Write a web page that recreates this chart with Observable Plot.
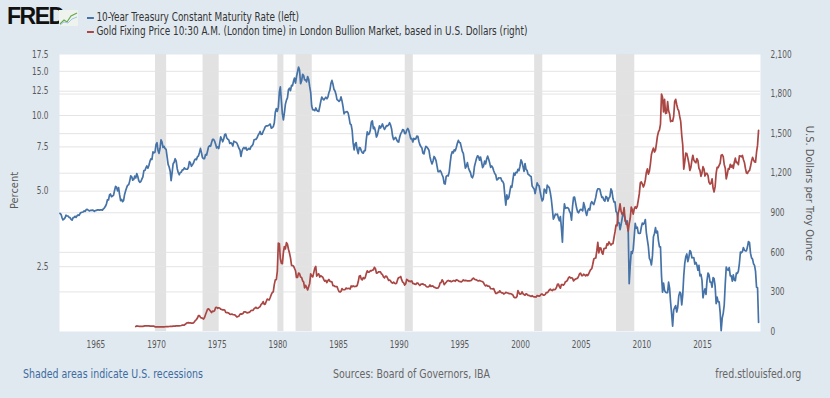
<!DOCTYPE html>
<html><head><meta charset="utf-8">
<script src="https://cdn.jsdelivr.net/npm/d3@7"></script>
<script src="https://cdn.jsdelivr.net/npm/@observablehq/plot@0.6"></script>
<style>
body{margin:0;background:#e1e9f0;width:830px;height:398px;overflow:hidden;position:relative;
 font-family:"Liberation Sans Narrow","Arial Narrow","DejaVu Sans Condensed","Roboto Condensed",sans-serif;}
#chart{position:absolute;left:0;top:46px;}
#logo{position:absolute;left:7px;top:3px;font-family:"Liberation Sans",Arial,sans-serif;font-weight:bold;font-size:23px;letter-spacing:-1.5px;color:#111;}
#icon{position:absolute;left:59px;top:10px;}
.leg{position:absolute;left:87px;font-size:11.5px;color:#333;white-space:nowrap;transform:scaleX(0.86);transform-origin:0 50%;}
.leg span{display:inline-block;width:8px;height:2px;vertical-align:middle;margin-right:3px;}
.ylab{position:absolute;font-size:11px;color:#595959;white-space:nowrap;}
.foot{position:absolute;top:366px;font-size:12.5px;color:#666;white-space:nowrap;transform:scaleX(0.84);transform-origin:0 50%;}
.foot.r{transform-origin:100% 50%;}
</style></head>
<body>
<div id="logo">FRED</div>
<svg id="icon" width="19" height="16" viewBox="0 0 19 16"><rect x="0" y="0" width="19" height="16" fill="#eef3ee"/><polyline points="1,14 5,10 8,12 12,6 18,3" fill="none" stroke="#6aa84f" stroke-width="1.2"/><polyline points="1,15 5,12 9,13 13,9 18,7" fill="none" stroke="#9fc5e8" stroke-width="1"/></svg>
<div class="leg" style="top:10px"><span style="background:#4572a7"></span>10-Year Treasury Constant Maturity Rate (left)</div>
<div class="leg" style="top:24px"><span style="background:#aa4643"></span>Gold Fixing Price 10:30 A.M. (London time) in London Bullion Market, based in U.S. Dollars (right)</div>
<div class="ylab" style="left:-4px;top:184px;transform:rotate(-90deg);">Percent</div>
<div class="ylab" style="left:742px;top:187px;transform:rotate(90deg);">U.S. Dollars per Troy Ounce</div>
<div id="chart"></div>
<div class="foot" style="left:23px;color:#3d6b9f">Shaded areas indicate U.S. recessions</div>
<div class="foot" style="left:333px;">Sources: Board of Governors, IBA</div>
<div class="foot r" style="right:29px;">fred.stlouisfed.org</div>
<script>
// 10-Year Treasury rate (percent), monthly, starting Jan 1962
const rate1960s = [
4.08,4.04,3.93,3.84,3.87,3.91,4.01,3.98,3.98,3.93,3.92,3.86,
3.83,3.92,3.93,3.97,3.93,3.99,4.02,4.00,4.08,4.11,4.12,4.13,
4.17,4.15,4.22,4.23,4.20,4.17,4.19,4.19,4.20,4.19,4.15,4.18,
4.19,4.21,4.21,4.20,4.21,4.21,4.20,4.25,4.29,4.35,4.45,4.62,
4.61,4.83,4.87,4.75,4.78,4.81,5.02,5.22,5.18,5.01,5.16,4.84,
4.58,4.63,4.54,4.59,4.85,5.02,5.16,5.28,5.30,5.48,5.75,5.70,
5.53,5.56,5.74,5.64,5.87,5.72,5.50,5.42,5.46,5.58,5.70,6.03,
6.04,6.19,6.30,6.17,6.32,6.57,6.72,6.69,7.16,7.10,7.14,7.65];
const rate1970s = [
7.79,7.24,7.07,7.39,8.00,7.84,7.46,7.53,7.39,7.33,6.84,6.39,
6.24,6.00,5.50,5.93,6.43,6.52,6.73,6.58,6.14,5.93,5.81,5.93,
5.95,6.08,6.07,6.19,6.13,6.11,6.11,6.21,6.55,6.48,6.28,6.36,
6.46,6.64,6.71,6.67,6.85,6.90,7.13,7.40,7.09,6.79,6.73,6.74,
6.99,6.96,7.21,7.51,7.58,7.54,7.81,8.04,8.04,7.90,7.68,7.43,
7.50,7.39,7.73,8.23,8.06,7.86,8.06,8.40,8.43,8.14,8.05,8.00,
7.74,7.79,7.73,7.56,7.90,7.86,7.83,7.77,7.59,7.41,7.29,6.87,
7.21,7.39,7.46,7.37,7.46,7.28,7.33,7.40,7.34,7.52,7.58,7.69,
8.01,8.03,8.04,8.15,8.35,8.46,8.64,8.41,8.42,8.64,8.81,9.01,
9.10,9.10,9.12,9.18,9.25,8.91,8.95,9.03,9.33,10.30,10.65,10.39];
const rate1980s = [
10.80,12.41,13.00,11.47,10.18,9.60,10.25,11.10,11.51,11.75,12.68,12.84,
12.57,13.19,13.12,13.68,14.10,13.47,14.28,14.94,15.60,15.15,13.39,13.72,
14.59,14.43,13.86,13.87,13.62,14.30,13.95,13.06,12.34,10.91,10.55,10.54,
10.46,10.72,10.51,10.40,10.38,10.85,11.38,11.85,11.65,11.54,11.69,11.83,
11.67,11.84,12.32,12.63,13.41,13.80,13.36,12.72,12.52,12.16,11.57,11.50,
11.38,11.51,11.86,11.43,10.85,10.16,10.31,10.33,10.37,10.24,9.78,9.26,
9.19,8.70,7.78,7.30,7.71,7.80,7.30,7.05,7.45,7.43,7.25,7.11,
7.08,7.25,7.25,8.02,8.61,8.40,8.45,8.76,9.42,9.52,8.86,8.99,
8.67,8.21,8.37,8.72,9.09,8.92,9.06,9.26,8.98,8.80,8.96,9.11,
9.09,9.17,9.36,9.18,8.86,8.28,8.02,8.11,8.19,8.01,7.87,7.84];
const rate1990s = [
8.21,8.47,8.59,8.79,8.76,8.48,8.47,8.75,8.89,8.72,8.39,8.08,
8.09,7.85,8.11,8.04,8.07,8.28,8.27,7.90,7.65,7.53,7.42,7.09,
7.03,7.34,7.54,7.48,7.39,7.26,6.84,6.59,6.42,6.59,6.87,6.77,
6.60,6.26,5.98,5.97,6.04,5.96,5.81,5.68,5.36,5.33,5.72,5.77,
5.75,5.97,6.48,6.97,7.18,7.10,7.30,7.24,7.46,7.74,7.96,7.81,
7.78,7.47,7.20,7.06,6.63,6.17,6.28,6.49,6.20,6.04,5.93,5.71,
5.65,5.81,6.27,6.51,6.74,6.91,6.87,6.64,6.83,6.53,6.20,6.30,
6.58,6.42,6.69,6.89,6.71,6.49,6.22,6.30,6.21,6.03,5.88,5.81,
5.54,5.57,5.65,5.64,5.65,5.50,5.46,5.34,4.81,4.40,4.83,4.65,
4.72,5.00,5.23,5.18,5.54,5.90,5.79,5.94,5.92,6.11,6.03,6.28];
const rate2000s = [
6.66,6.52,6.26,5.99,6.44,6.10,6.05,5.83,5.80,5.74,5.72,5.24,
5.16,5.10,4.89,5.14,5.39,5.28,5.24,4.97,4.73,4.57,4.65,5.09,
5.04,4.91,5.28,5.21,5.16,4.93,4.65,4.26,3.87,3.94,4.05,4.03,
4.05,3.90,3.81,3.96,3.57,3.13,3.98,4.45,4.27,4.29,4.30,4.27,
4.15,4.08,3.83,4.35,4.72,4.73,4.50,4.28,4.13,4.10,4.19,4.23,
4.22,4.17,4.50,4.34,4.14,4.00,4.18,4.26,4.20,4.46,4.54,4.47,
4.42,4.57,4.72,4.99,5.11,5.11,5.09,4.88,4.72,4.73,4.60,4.56,
4.76,4.72,4.56,4.69,4.75,5.10,5.00,4.67,4.52,4.53,4.15,4.10,
3.74,3.74,3.51,3.68,3.88,4.10,4.01,3.89,3.69,3.81,3.53,2.14,
2.52,2.87,2.82,2.93,3.29,3.72,3.56,3.59,3.40,3.39,3.40,3.59];
const rate2010s = [
3.73,3.69,3.73,3.85,3.42,3.20,3.01,2.70,2.65,2.54,2.76,3.29,
3.39,3.58,3.41,3.46,3.17,3.00,3.00,2.30,1.98,2.15,2.01,1.98,
1.97,1.97,2.17,2.05,1.80,1.62,1.45,1.68,1.72,1.75,1.65,1.72,
1.91,1.98,1.96,1.76,1.93,2.30,2.58,2.74,2.81,2.62,2.72,2.90,
2.86,2.71,2.72,2.71,2.56,2.60,2.54,2.42,2.53,2.30,2.33,2.21,
1.88,1.98,2.04,1.94,2.20,2.36,2.32,2.17,2.17,2.07,2.26,2.24,
2.09,1.78,1.89,1.81,1.81,1.64,1.39,1.56,1.63,1.76,2.14,2.49,
2.43,2.42,2.48,2.30,2.30,2.19,2.32,2.21,2.20,2.36,2.35,2.40,
2.58,2.86,2.84,2.87,2.98,2.91,2.89,2.89,3.00,3.15,3.12,2.83,
2.71,2.68,2.57,2.53,2.40,2.07,2.06,1.50];

// Gold fixing price (USD per troy ounce), monthly, starting Apr 1968
const gold1960s = [
37.9,42.1,41.1,39.5,39.2,39.5,39.4,39.2,41.1,
42.3,42.5,43.0,43.3,43.4,41.2,41.8,41.0,40.9,40.4,35.4,35.2];
const gold1970s = [
34.9,35.0,35.1,35.6,35.5,35.4,35.3,35.4,36.2,37.5,37.4,37.4,
37.9,38.7,38.9,39.0,40.5,40.1,40.9,42.7,42.0,42.5,42.9,43.5,
45.8,48.3,48.3,49.0,54.6,62.1,65.7,67.0,65.5,64.9,62.9,63.9,
65.1,74.2,84.4,90.5,102.0,120.1,120.2,106.8,103.0,100.1,94.8,106.7,
129.1,150.2,168.4,172.2,163.3,154.1,143.0,154.6,151.8,158.8,181.7,183.9,
175.8,180.0,178.1,169.9,167.3,164.2,165.1,163.0,144.1,142.8,142.9,139.3,
131.3,130.2,132.3,128.4,126.9,125.7,117.9,109.7,114.0,116.2,130.5,133.6,
132.3,136.3,148.3,149.5,146.9,140.9,143.3,144.8,149.5,159.1,161.1,160.4,
173.1,178.1,183.7,175.3,176.3,183.9,188.7,206.0,212.0,227.0,206.1,207.8,
227.3,245.7,242.0,239.2,257.6,279.0,295.0,301.1,355.1,391.7,392.5,455.1];
const gold1980s = [
670.0,665.3,553.6,517.4,513.8,600.7,644.3,626.5,673.6,661.2,623.5,594.9,
557.6,500.8,499.8,495.8,479.7,460.8,409.3,410.1,443.2,437.8,413.4,410.1,
384.1,374.2,330.4,350.4,333.9,314.9,339.4,364.3,436.8,421.8,413.7,444.6,
480.1,492.8,420.3,432.7,437.2,412.4,422.7,416.5,411.6,393.1,381.7,388.1,
371.0,386.4,394.2,381.2,377.6,377.2,347.5,347.7,341.1,340.2,341.2,320.2,
302.8,299.1,304.0,324.8,316.6,316.6,317.4,329.6,324.0,326.3,326.1,322.0,
345.4,339.1,346.1,340.6,342.7,342.6,348.7,376.8,418.5,423.9,397.9,390.9,
408.3,401.1,408.9,438.6,460.4,450.0,450.2,461.3,459.8,465.4,467.6,486.3,
477.4,442.3,443.6,451.6,451.5,451.4,437.5,431.6,413.3,406.5,419.7,418.7,
404.0,387.8,390.2,384.2,371.4,367.5,375.0,365.4,362.1,366.9,394.3,409.4];
const gold1990s = [
410.1,416.8,393.1,374.3,369.3,352.3,362.5,395.2,389.3,380.7,381.8,378.2,
383.7,363.8,363.3,358.4,357.4,366.7,367.7,356.3,348.7,358.6,359.6,361.1,
354.5,353.9,344.3,338.6,337.2,340.8,352.7,342.0,345.3,344.4,335.0,334.8,
329.0,329.4,329.9,341.9,367.0,371.9,392.0,379.8,355.6,364.2,373.6,383.3,
387.0,382.1,383.9,377.3,381.4,385.6,385.5,380.4,391.6,389.8,384.4,379.3,
378.6,376.5,382.1,391.0,385.3,387.6,386.2,383.8,383.1,383.1,386.0,387.4,
399.5,404.8,396.2,392.9,391.9,385.3,383.5,387.5,383.1,381.1,377.8,369.4,
354.1,346.6,351.8,343.8,343.8,340.8,324.0,324.0,322.8,324.9,306.0,289.1,
289.1,297.5,295.9,308.4,299.1,292.3,292.9,284.1,289.0,296.1,294.1,291.6,
287.3,287.2,286.0,282.2,276.9,261.3,256.2,256.7,264.7,310.7,293.2,283.1];
const gold2000s = [
284.6,300.9,286.4,280.0,275.1,285.7,281.6,274.5,273.7,270.1,265.7,271.5,
265.5,261.9,263.0,260.5,272.4,270.2,267.5,272.4,283.4,283.1,276.2,275.9,
281.7,295.5,294.1,302.7,314.5,321.2,313.3,310.3,319.2,316.6,319.1,332.4,
356.9,359.0,340.6,328.2,355.7,356.4,351.0,359.8,378.9,378.9,389.9,407.6,
414.0,405.3,406.7,403.0,383.8,392.4,398.1,400.5,405.3,420.5,439.4,441.8,
424.0,423.4,434.2,429.2,421.9,430.7,424.5,437.9,456.0,469.9,476.7,509.8,
549.9,555.0,557.1,610.6,675.4,596.2,633.7,632.6,598.2,585.8,627.8,629.8,
631.2,664.8,654.9,679.4,666.9,655.5,665.3,665.4,712.7,754.6,806.3,803.2,
889.6,922.3,968.4,909.7,888.7,889.5,939.8,839.0,829.9,806.6,760.9,816.1,
858.7,943.2,924.3,890.2,928.6,945.7,934.2,949.5,996.6,1043.2,1127.0,1134.7];
const gold2010s = [
1117.9,1095.4,1113.3,1148.7,1205.4,1232.9,1193.0,1215.8,1271.0,1342.0,1369.9,1391.0,
1360.5,1374.7,1423.3,1480.9,1512.6,1529.0,1572.8,1800.0,1775.0,1665.2,1760.0,1652.3,
1656.1,1742.6,1673.8,1649.2,1591.2,1598.8,1594.3,1630.3,1744.8,1760.0,1721.1,1688.5,
1671.9,1627.6,1593.1,1487.9,1414.0,1230.0,1285.5,1351.7,1348.6,1316.6,1275.8,1221.5,
1244.3,1299.6,1336.1,1299.0,1287.5,1279.1,1310.6,1295.1,1236.6,1222.5,1176.3,1200.6,
1249.3,1231.1,1178.6,1198.9,1198.6,1182.0,1130.3,1117.9,1125.4,1157.1,1087.2,1058.0,
1097.9,1199.5,1245.1,1242.3,1259.4,1276.4,1336.7,1340.2,1326.0,1266.6,1238.4,1157.4,
1192.1,1234.2,1231.4,1266.9,1246.0,1260.3,1236.8,1283.0,1314.1,1279.5,1281.9,1264.5,
1331.3,1330.7,1324.7,1334.8,1303.5,1281.6,1237.7,1202.0,1198.4,1215.4,1220.7,1250.4,
1291.8,1320.1,1300.9,1285.9,1283.7,1359.0,1412.9,1525.0];

const recessionStarts = ["1969-12-01","1973-11-01","1980-01-01","1981-07-01","1990-07-01","2001-03-01","2007-12-01"];
const recessionEnds   = ["1970-11-01","1975-03-01","1980-07-01","1982-11-01","1991-03-01","2001-11-01","2009-06-01"];

const leftTicks = [2.5, 5.0, 7.5, 10.0, 12.5, 15.0, 17.5];
const rightTicks = [0, 300, 600, 900, 1200, 1500, 1800, 2100];
const xTickYears = [1965, 1970, 1975, 1980, 1985, 1990, 1995, 2000, 2005, 2010, 2015];

function monthly(values, y0, m0) {
  return values.map((v, i) => ({date: new Date(Date.UTC(y0, m0 + i, 15)), value: v}));
}
const rateRows = monthly([].concat(rate1960s, rate1970s, rate1980s, rate1990s, rate2000s, rate2010s), 1962, 0);
const goldRows = monthly([].concat(gold1960s, gold1970s, gold1980s, gold1990s, gold2000s, gold2010s), 1968, 3);
const recessions = recessionStarts.map((s, i) => ({start: new Date(s), end: new Date(recessionEnds[i])}));

const LO = 1.38, HI = 17.5, GMAX = 2100;
const goldToY = g => Math.exp(Math.log(LO) + (g / GMAX) * (Math.log(HI) - Math.log(LO)));
const yToGold = v => (Math.log(v) - Math.log(LO)) / (Math.log(HI) - Math.log(LO)) * GMAX;

const grid = {stroke: "#e4e4e4", strokeOpacity: 1, strokeWidth: 1};
const chart = Plot.plot({
  width: 830, height: 316,
  marginTop: 8, marginBottom: 31, marginLeft: 59, marginRight: 70,
  style: {background: "transparent", fontSize: "10px", color: "#595959",
          fontFamily: '"Liberation Sans Narrow","Arial Narrow","DejaVu Sans Condensed",sans-serif'},
  x: {type: "utc", domain: [new Date("1962-01-01"), new Date("2019-10-12")]},
  y: {type: "log", domain: [LO, HI]},
  marks: [
    Plot.frame({fill: "white", stroke: "none"}),
    Plot.rect(recessions, {x1: "start", x2: "end", y1: () => LO, y2: () => HI, fill: "#e2e2e2"}),
    Plot.gridY(leftTicks.slice(0, -1), grid),
    Plot.gridY(rightTicks.slice(1, -1).map(goldToY), grid),
    Plot.axisY(leftTicks, {anchor: "left", tickSize: 0, tickPadding: 11, label: null, tickFormat: d => d.toFixed(1)}),
    Plot.axisY(rightTicks.map(goldToY), {anchor: "right", tickSize: 0, tickPadding: 10, label: null,
      tickFormat: d => d3.format(",")(Math.round(yToGold(d) / 100) * 100)}),
    Plot.axisX(xTickYears.map(y => new Date(Date.UTC(y, 0, 1))), {anchor: "bottom", tickSize: 0, tickPadding: 9, label: null, tickFormat: d3.utcFormat("%Y")}),
    Plot.lineY(rateRows, {x: "date", y: "value", stroke: "#4572a7", strokeWidth: 1.7}),
    Plot.lineY(goldRows, {x: "date", y: d => goldToY(d.value), stroke: "#aa4643", strokeWidth: 1.7})
  ]
});
// condense tick label glyphs horizontally (keeping their anchor points)
chart.querySelectorAll("text").forEach(t => {
  const tr = t.getAttribute("transform");
  if (tr) t.setAttribute("transform", tr + " scale(0.82,1)");
  else {
    const x = +(t.getAttribute("x") || 0);
    t.setAttribute("transform", `translate(${x},0) scale(0.82,1) translate(${-x},0)`);
  }
});
document.getElementById("chart").appendChild(chart);
</script>
</body></html>
